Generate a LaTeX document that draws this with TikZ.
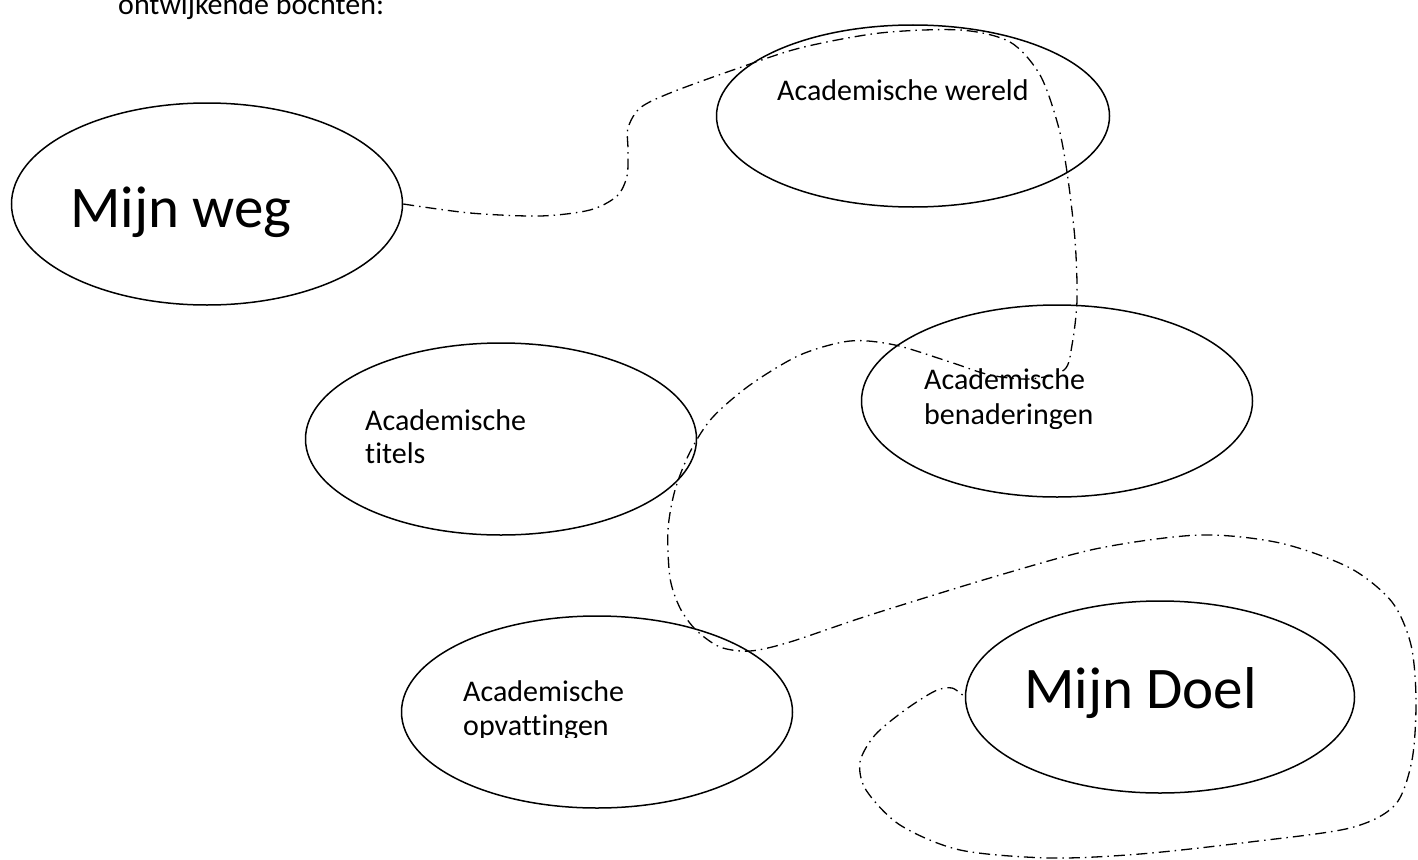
\documentclass[tikz,border=0pt]{standalone}
\usepackage{fontspec}
\setmainfont{Carlito}[Ligatures=NoCommon]
\usepackage{tikz}
\usetikzlibrary{shapes.geometric}

\begin{document}
\begin{tikzpicture}[x=1pt, y=-1pt,
  bubble/.style={ellipse, draw, line width=1.5pt, inner sep=0pt,
    minimum width=391pt, minimum height=192pt},
  lbl/.style={anchor=base west, inner sep=0pt, font=\fontsize{30}{36}\selectfont},
  biglbl/.style={anchor=base west, inner sep=0pt, font=\fontsize{59}{70}\selectfont},
  route/.style={line width=1.3pt, dash pattern=on 11pt off 5pt on 1.5pt off 5pt}]
  \useasboundingbox (0,0) rectangle (1418,859);
  % heading, cut at the top edge
  \node[lbl] (kop) at (118,15) {ontwijkende bochten:};
  % the ellipses
  \node[bubble, minimum height=202pt] (weg) at (207,204) {};
  \node[bubble, minimum width=393pt, minimum height=182pt] (wereld) at (913,116) {};
  \node[bubble] (ben) at (1057,401) {};
  \node[bubble] (tit) at (501,439) {};
  \node[bubble] (opv) at (597,712) {};
  \node[bubble, minimum width=389pt] (doel) at (1160,697) {};
  % labels
  \node[biglbl] (wegtxt) at (70,227) {Mijn weg};
  \node[biglbl] (doeltxt) at (1024,708) {Mijn Doel};
  \node[lbl] (wereldtxt) at (777,100) {Academische wereld};
  \node[lbl] (bentxt) at (924,389) {Academische};
  \node[lbl] (tittxt) at (365,430) {Academische};
  \node[lbl] (tittxt2) at (365,463) {titels};
  \node[lbl] (opvtxt) at (463,701) {Academische};
  \begin{scope}
    \clip (900,395) rectangle (1120,428);
    \node[lbl] (bentxt2) at (924,424) {benaderingen};
  \end{scope}
  \begin{scope}
    \clip (440,705) rectangle (640,737);
    \node[lbl] (opvtxt2) at (463,735) {opvattingen};
  \end{scope}
  % the winding route
  \draw[route] plot[smooth, tension=0.5] coordinates {
    (weg.east) (470,213) (540,216) (590,210) (617,196) (627,176) (628,150)
    (628,128) (640,108) (670,93) (733,70) (800,48) (880,33) (960,30)
    (1010,42) (1040,75) (1058,125) (1067,172) (1075,240) (1077,300)
    (1072,345) (1064,370) (1030,379) (990,375) (950,362) (895,345)
    (850,341) (800,355) (750,385) (712,418) (690,452) (675,490) (668,530)
    (670,578) (680,608) (696,630) (720,647) (750,651) (790,642) (870,615)
    (1000,575) (1100,548) (1200,535) (1280,543) (1350,568) (1392,602)
    (1411,645) (1416,700) (1412,760) (1395,805) (1350,828) (1250,842)
    (1140,854) (1050,858) (960,850) (900,825) (866,790) (860,762)
    (875,735) (905,710) (935,691) (952,688) (doel.west)};
\end{tikzpicture}
\end{document}
